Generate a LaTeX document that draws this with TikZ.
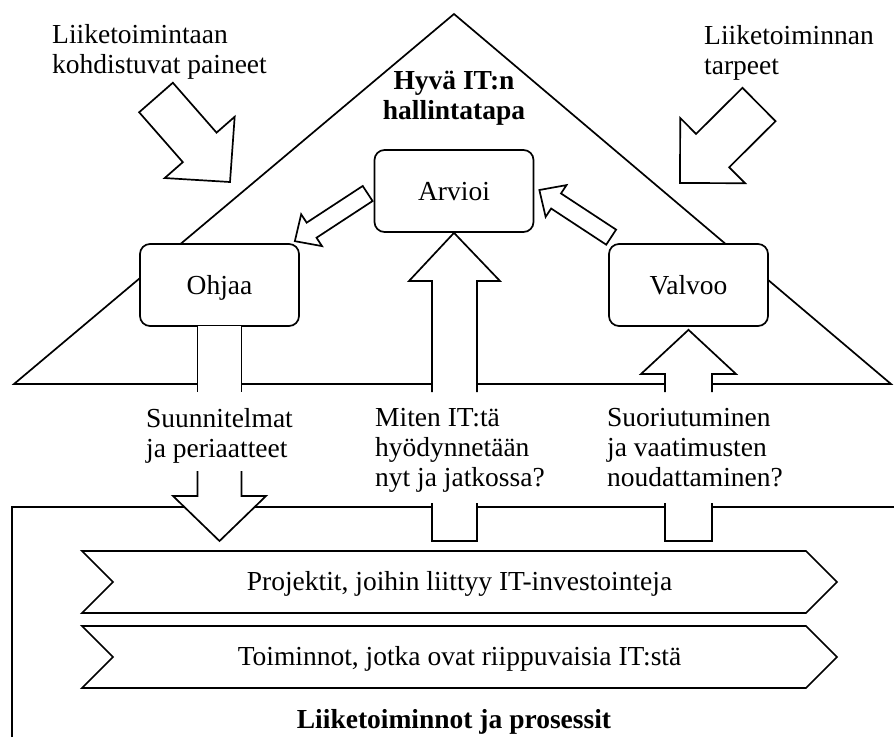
\documentclass[tikz,border=0pt]{standalone}
\usepackage{fontspec}
\setmainfont{Liberation Serif}
\usetikzlibrary{calc,shapes.symbols}

\newcommand{\dgfont}{\fontsize{27.5}{30}\selectfont}

% Hollow block arrow: #1 tail centre, #2 tip, #3 half shaft width,
% #4 half head width, #5 head length
\newcommand{\holarrow}[5]{%
  \path ($(#2)!#5!(#1)$) coordinate (hj);
  \filldraw[harrow] ($(#1)!#3!90:(#2)$) -- ($(hj)!#3!90:(#2)$)
    -- ($(hj)!#4!90:(#2)$) -- (#2) -- ($(hj)!#4!-90:(#2)$)
    -- ($(hj)!#3!-90:(#2)$) -- ($(#1)!#3!-90:(#2)$) -- cycle;}

\tikzset{
  line/.style={line width=1.7pt},
  box/.style={draw, line width=1.7pt, rounded corners=10pt, fill=white,
    minimum width=159pt, minimum height=82pt, inner sep=0pt, font=\dgfont,
    text height=20pt, text depth=2pt},
  harrow/.style={draw, fill=white, line width=1.7pt, line join=miter},
  ribbon/.style={shape=signal, signal from=west, signal to=east,
    signal pointer angle=90, draw, fill=white, line width=1.7pt,
    minimum width=755pt, minimum height=62pt, inner sep=0pt, font=\dgfont,
    text height=19pt, text depth=3pt},
  lbl/.style={inner sep=0pt, anchor=north west, align=left, font=\dgfont},
}

\begin{document}
\begin{tikzpicture}[x=1pt, y=-1pt]
\useasboundingbox (0,0) rectangle (894,737);

% governance triangle
\draw[line] (14,384) -- (454,14) -- (891,384) -- cycle;

% business area (open to the right and below)
\draw[line] (12,737) -- (12,507) -- (894,507);

% governance activities
\node[box] (arvioi) at (454,191) {Arvioi};
\node[box] (ohjaa)  at (219.5,285) {Ohjaa};
\node[box] (valvoo) at (688.5,285) {Valvoo};

% arrows between the activities
\holarrow{$(arvioi.west)+(-6,2.5)$}{$(ohjaa.north east)+(-5,-2)$}{9pt}{19pt}{20pt}
\holarrow{$(valvoo.north west)+(3,-6)$}{$(arvioi.east)+(5,-1)$}{9pt}{19pt}{20pt}

% external pressures and needs
\coordinate (pressTail) at (156,97.5);
\coordinate (pressTip)  at (230,182);
\coordinate (needTail)  at (759,104.5);
\coordinate (needTip)   at (680,183);
\holarrow{pressTail}{pressTip}{22.4pt}{46.5pt}{46pt}
\holarrow{needTail}{needTip}{23.5pt}{46pt}{46pt}

% Ohjaa: plans and policies down to the business area
\fill[white] (197.5,326) rectangle (241.5,392);
\draw[line] (197.5,326) -- (197.5,392) (241.5,326) -- (241.5,392);
\filldraw[harrow] (197.5,471) -- (197.5,496) -- (173,496) -- (219.5,541)
  -- (266,496) -- (241.5,496) -- (241.5,471);

% business area up to Arvioi
\filldraw[harrow] (432,392) -- (432,281) -- (409,281) -- (arvioi.south)
  -- (500,281) -- (477,281) -- (477,392);
\filldraw[harrow] (432,503) -- (432,541) -- (477,541) -- (477,503);

% business area up to Valvoo
\filldraw[harrow] (665,392) -- (665,374) -- (641,374)
  -- ($(valvoo.south)+(0,3)$) -- (736,374) -- (712,374) -- (712,392);
\filldraw[harrow] (665,503) -- (665,541) -- (712,541) -- (712,503);

% projects and operations
\node[ribbon] (proj) at (459.5,582) {Projektit, joihin liittyy IT-investointeja};
\node[ribbon] (oper) at (459.5,657) {Toiminnot, jotka ovat riippuvaisia IT:stä};

% labels
\node[lbl] (press) at (52,24) {Liiketoimintaan\\kohdistuvat paineet};
\node[lbl] (needs) at (704,25) {Liiketoiminnan\\tarpeet};
\node[inner sep=0pt, anchor=north, align=center, font=\dgfont\bfseries]
  (gov) at (454,71) {Hyvä IT:n\\hallintatapa};
\node[lbl] (plans) at (146,408) {Suunnitelmat\\ja periaatteet};
\node[lbl] (use)   at (375,408) {Miten IT:tä\\hyödynnetään\\nyt ja jatkossa?};
\node[lbl] (perf)  at (607,408) {Suoriutuminen\\ja vaatimusten\\noudattaminen?};
\node[inner sep=0pt, anchor=base, font=\dgfont\bfseries]
  (ops) at (454,728) {Liiketoiminnot ja prosessit};
\end{tikzpicture}
\end{document}
